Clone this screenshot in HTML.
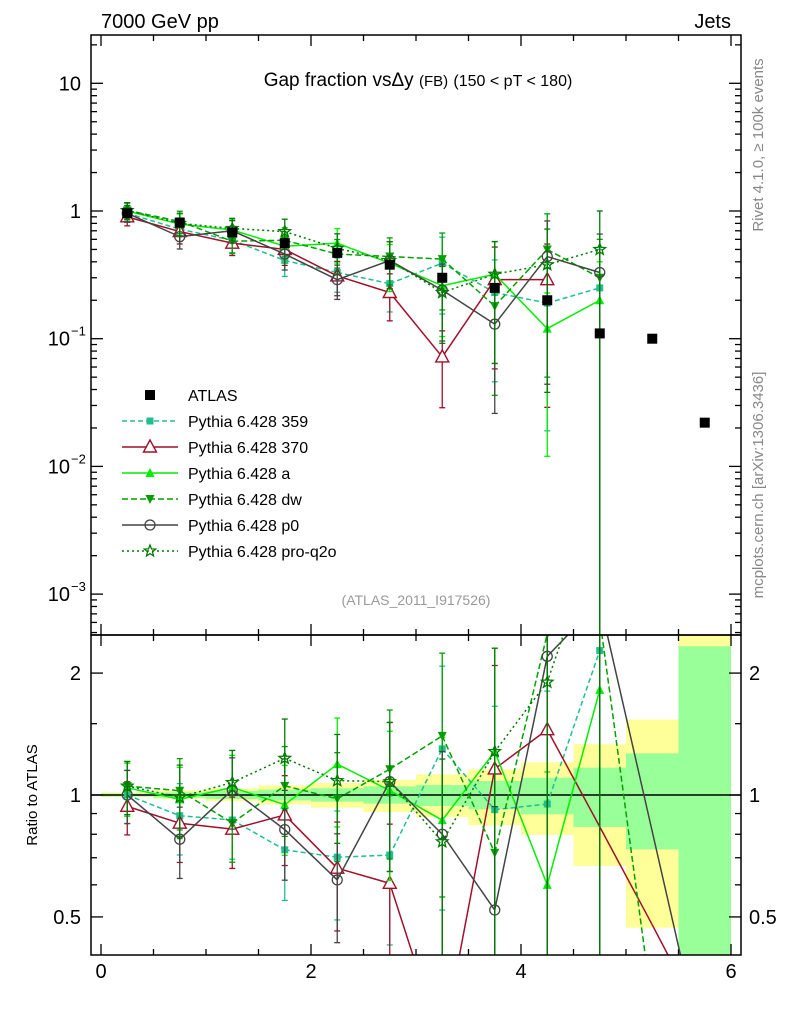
<!DOCTYPE html>
<html><head><meta charset="utf-8">
<style>
html,body{margin:0;padding:0;background:#fff;width:786px;height:1024px;overflow:hidden;}
svg{display:block;font-family:"Liberation Sans",sans-serif;}
</style></head>
<body>
<svg id="chart" width="786" height="1024" viewBox="0 0 786 1024" xmlns="http://www.w3.org/2000/svg">
<defs>
<clipPath id="clipMain"><rect x="91" y="35" width="650" height="600"/></clipPath>
<clipPath id="clipRatio"><rect x="91" y="635" width="650" height="320"/></clipPath>
</defs>
<g id="bands" clip-path="url(#clipRatio)"></g>
<g id="ticks"></g>
<line x1="91" y1="795" x2="741" y2="795" stroke="#000" stroke-width="1.5"/>
<g id="mainSeries" clip-path="url(#clipMain)"></g>
<g id="ratioSeries" clip-path="url(#clipRatio)"></g>
<rect x="91" y="35" width="650" height="600" fill="none" stroke="#000" stroke-width="1.5"/>
<rect x="91" y="635" width="650" height="320" fill="none" stroke="#000" stroke-width="1.5"/>
<text x="101" y="28" font-size="20">7000 GeV pp</text>
<text x="731" y="28" font-size="20" text-anchor="end">Jets</text>
<text x="418" y="86" font-size="19" text-anchor="middle">Gap fraction vs<tspan>Δy</tspan> <tspan font-size="15">(FB)</tspan> <tspan font-size="16">(150 &lt; pT &lt; 180)</tspan></text>
<text x="416" y="605" font-size="14" fill="#999" text-anchor="middle">(ATLAS_2011_I917526)</text>
<text transform="translate(763,145) rotate(-90)" font-size="15" fill="#888" text-anchor="middle">Rivet 4.1.0, ≥ 100k events</text>
<text transform="translate(763,485) rotate(-90)" font-size="15" fill="#888" text-anchor="middle">mcplots.cern.ch [arXiv:1306.3436]</text>
<text transform="translate(37,795) rotate(-90)" font-size="15" text-anchor="middle">Ratio to ATLAS</text>
<g id="labels" font-size="20"></g>
<g id="legend"></g>
</svg>
<script>
const xCenters = [0.25,0.75,1.25,1.75,2.25,2.75,3.25,3.75,4.25,4.75,5.25,5.75];
const atlasValues = [0.96,0.81,0.68,0.56,0.47,0.38,0.30,0.25,0.20,0.11,0.10,0.022];
const p359 = [0.96,0.72,0.59,0.41,0.33,0.27,0.39,0.23,0.19,0.25];
const p370 = [0.90,0.69,0.56,0.50,0.31,0.23,0.072,0.29,0.29];
const pA = [1.0,0.79,0.71,0.53,0.56,0.39,0.26,0.32,0.12,0.20];
const pDW = [1.01,0.83,0.58,0.59,0.46,0.44,0.42,0.18,0.50,0.30];
const pP0 = [0.96,0.63,0.70,0.46,0.29,0.41,0.24,0.13,0.44,0.33];
const pPro = [1.01,0.80,0.73,0.69,0.51,0.41,0.23,0.32,0.38,0.50];
const mcRelErr = [0.15,0.2,0.2,0.25,0.3,0.4,0.6,0.8,0.9,1.0];
const tail370 = [[4.75,0.835],[5.25,0.478],[5.75,0.27]];
const tailDW = [[5.25,0.30]];
const tailP0 = [[5.75,0.22]];
const binEdges = [0,0.5,1,1.5,2,2.5,3,3.5,4,4.5,5,5.5,6];
const bandTotHi = [1.015,1.027,1.039,1.056,1.071,1.089,1.125,1.157,1.204,1.334,1.535,3.0];
const bandTotLo = [0.989,0.978,0.966,0.948,0.930,0.908,0.882,0.842,0.797,0.668,0.47,0.1];
const bandStatHi = [1.008,1.015,1.023,1.031,1.039,1.05,1.058,1.083,1.103,1.168,1.267,2.33];
const bandStatLo = [0.992,0.985,0.978,0.97,0.963,0.952,0.939,0.922,0.896,0.834,0.734,0.1];
const xTickLabels = ["0","2","4","6"];
const legendLabels = ["ATLAS","Pythia 6.428 359","Pythia 6.428 370","Pythia 6.428 a","Pythia 6.428 dw","Pythia 6.428 p0","Pythia 6.428 pro-q2o"];

const NS="http://www.w3.org/2000/svg";
const X=x=>101+105*x;
const YM=v=>211-127.7*Math.log10(v);
const YR=r=>795-405*Math.log10(r);
const MAIN=[33,637], RAT=[633,957];
const clampY=(y,R)=>Math.min(R[1],Math.max(R[0],y));
function mk(tag,attrs,parent){const e=document.createElementNS(NS,tag);for(const k in attrs)e.setAttribute(k,attrs[k]);parent.appendChild(e);return e;}
const $=id=>document.getElementById(id);

// clip segment to y range
function clipSeg(a,b,R){
  let [x1,y1]=a,[x2,y2]=b;
  for(const lim of R){
    const out1 = lim===R[0]? y1<lim : y1>lim;
    const out2 = lim===R[0]? y2<lim : y2>lim;
    if(out1&&out2)return null;
    if(out1||out2){
      const t=(lim-y1)/(y2-y1); const xi=x1+t*(x2-x1);
      if(out1){x1=xi;y1=lim;}else{x2=xi;y2=lim;}
    }
  }
  return [x1,y1,x2,y2];
}
function drawLine(pts,R,s,g){
  for(let i=0;i<pts.length-1;i++){
    const c=clipSeg(pts[i],pts[i+1],R); if(!c)continue;
    mk("line",{x1:c[0],y1:c[1],x2:c[2],y2:c[3],stroke:s.color,"stroke-width":1.5,"stroke-dasharray":s.dash},g);
  }
}

const bands=$("bands");
for(let i=0;i<12;i++){
  const x0=X(binEdges[i]),x1=X(binEdges[i+1]);
  let t=clampY(YR(bandTotHi[i]),RAT), b=clampY(YR(bandTotLo[i]),RAT);
  let r=mk("rect",{x:x0,y:t,width:x1-x0,height:b-t,fill:"#ffff99"},bands);
  
  
  t=clampY(YR(bandStatHi[i]),RAT); b=clampY(YR(bandStatLo[i]),RAT);
  r=mk("rect",{x:x0,y:t,width:x1-x0,height:b-t,fill:"#99ff99"},bands);
  
  
}

const tk=$("ticks");
function tline(x1,y1,x2,y2){mk("line",{x1,y1,x2,y2,stroke:"#000","stroke-width":1.3},tk);}
for(let x=0;x<=6.001;x+=0.5){
  const major=Math.abs(x-Math.round(x/2)*2)<0.01, L=major?11:6, px=X(x);
  tline(px,35,px,35+L); tline(px,635,px,635-L); tline(px,635,px,635+L); tline(px,955,px,955-L);
}
for(let d=-4;d<=1;d++){
  for(let m=1;m<10;m++){
    const v=m*Math.pow(10,d); const y=YM(v); if(y<35||y>635)continue;
    const L=m===1?12:6; tline(91,y,91+L,y); tline(741,y,741-L,y);
  }
}
[0.5,0.6,0.7,0.8,0.9,1,1.5,2].forEach(r=>{const y=YR(r);const L=(r===0.5||r===1||r===2)?12:6;tline(91,y,91+L,y);tline(741,y,741-L,y);});

const lb=$("labels");
xTickLabels.forEach((t,i)=>{const e=mk("text",{x:X(i*2),y:978,"text-anchor":"middle"},lb);e.textContent=t;
 
 });
[["10",10],["1",1]].forEach(([t,v])=>{const e=mk("text",{x:81,y:YM(v)+7,"text-anchor":"end"},lb);e.textContent=t;
 
 });
[-1,-2,-3].forEach(d=>{const e=mk("text",{x:70,y:YM(Math.pow(10,d))+7,"text-anchor":"end"},lb);e.textContent="10";
 
 
 const s=mk("text",{x:71,y:YM(Math.pow(10,d))-3,"font-size":13},lb);s.textContent="−"+(-d);
 
 });
[["2",2],["1",1],["0.5",0.5]].forEach(([t,v])=>{
 let e=mk("text",{x:81,y:YR(v)+7,"text-anchor":"end"},lb);e.textContent=t;
 
 
 e=mk("text",{x:749,y:YR(v)+7},lb);e.textContent=t;
 
 });

function marker(type,color,x,y,g){
  let e;
  if(type==="bigsq")e=mk("rect",{x:x-5,y:y-5,width:10,height:10,fill:"#000"},g);
  else if(type==="sq")e=mk("rect",{x:x-3.5,y:y-3.5,width:7,height:7,fill:color},g);
  else if(type==="otri")e=mk("polygon",{points:`${x},${y-7} ${x-6.5},${y+5} ${x+6.5},${y+5}`,fill:"#fff",stroke:color,"stroke-width":1.4},g);
  else if(type==="tri")e=mk("polygon",{points:`${x},${y-5} ${x-4.5},${y+4} ${x+4.5},${y+4}`,fill:color},g);
  else if(type==="dtri")e=mk("polygon",{points:`${x},${y+5} ${x-4.5},${y-4} ${x+4.5},${y-4}`,fill:color},g);
  else if(type==="circ")e=mk("circle",{cx:x,cy:y,r:5,fill:"none",stroke:color,"stroke-width":1.3},g);
  else if(type==="star"){let p=[];for(let k=0;k<10;k++){const a=-Math.PI/2+k*Math.PI/5,r=k%2?2.6:6;p.push((x+r*Math.cos(a)).toFixed(1)+","+(y+r*Math.sin(a)).toFixed(1));}
   e=mk("polygon",{points:p.join(" "),fill:"none",stroke:color,"stroke-width":1.3},g);}
  return e;
}
const series=[
 {name:"pythia-359",vals:p359,color:"#1fbf8f",dash:"5,3",mk:"sq",tail:[]},
 {name:"pythia-370",vals:p370,color:"#a0102a",dash:"",mk:"otri",tail:tail370},
 {name:"pythia-a",vals:pA,color:"#00ee00",dash:"",mk:"tri",tail:[]},
 {name:"pythia-dw",vals:pDW,color:"#00a000",dash:"6,3",mk:"dtri",tail:tailDW},
 {name:"pythia-p0",vals:pP0,color:"#444444",dash:"",mk:"circ",tail:tailP0},
 {name:"pythia-pro-q2o",vals:pPro,color:"#007a00",dash:"2,3",mk:"star",tail:[]}
];
const gm=$("mainSeries"), gr=$("ratioSeries");
series.forEach(s=>{
  const g1=mk("g",{},gm);
  
  
  const g2=mk("g",{},gr);
  
  
  const ptsM=[],ptsR=[];
  s.vals.forEach((v,i)=>{
    const x=X(xCenters[i]); const e=mcRelErr[i]; const r=v/atlasValues[i];
    const hi=v*(1+e), lo=Math.max(v*(1-e),1e-6);
    ptsM.push([x,YM(v)]); ptsR.push([x,YR(r)]);
    [[g1,YM(hi),YM(lo),MAIN],[g2,YR(hi/atlasValues[i]),YR(lo/atlasValues[i]),RAT]].forEach(([g,y1,y2,R])=>{
      const c1=clampY(y1,R), c2=clampY(y2,R);
      if(c1===c2)return;
      mk("line",{x1:x,y1:c1,x2:x,y2:c2,stroke:s.color,"stroke-width":1.3},g);
      if(c1===y1)mk("line",{x1:x-3,y1:y1,x2:x+3,y2:y1,stroke:s.color,"stroke-width":1.3},g);
      if(c2===y2)mk("line",{x1:x-3,y1:y2,x2:x+3,y2:y2,stroke:s.color,"stroke-width":1.3},g);
    });
  });
  s.tail.forEach(([xv,r])=>ptsR.push([X(xv),YR(r)]));
  drawLine(ptsM,MAIN,s,g1);
  drawLine(ptsR,RAT,s,g2);
  ptsM.forEach(p=>{if(p[1]>MAIN[0]&&p[1]<MAIN[1])marker(s.mk,s.color,p[0],p[1],g1);});
  ptsR.slice(0,s.vals.length).forEach(p=>{if(p[1]>RAT[0]&&p[1]<RAT[1])marker(s.mk,s.color,p[0],p[1],g2);});
});
const ga=mk("g",{},gm);


atlasValues.forEach((v,i)=>{const m=marker("bigsq","#000",X(xCenters[i]),YM(v),ga);
  
  });

const lg=$("legend");
const legStyles=[["bigsq","#000",""],["sq","#1fbf8f","5,3"],["otri","#a0102a",""],["tri","#00ee00",""],["dtri","#00a000","6,3"],["circ","#444444",""],["star","#007a00","2,3"]];
legendLabels.forEach((t,i)=>{
  const y=395+i*26; const g=mk("g",{},lg);
  
  
  const [m,c,d]=legStyles[i];
  if(i>0)mk("line",{x1:122,y1:y,x2:178,y2:y,stroke:c,"stroke-width":1.5,"stroke-dasharray":d},g);
  marker(m,c,150,y,g);
  const tx=mk("text",{x:188,y:y+6,"font-size":16},g); tx.textContent=t;
});
</script>
</body></html>
